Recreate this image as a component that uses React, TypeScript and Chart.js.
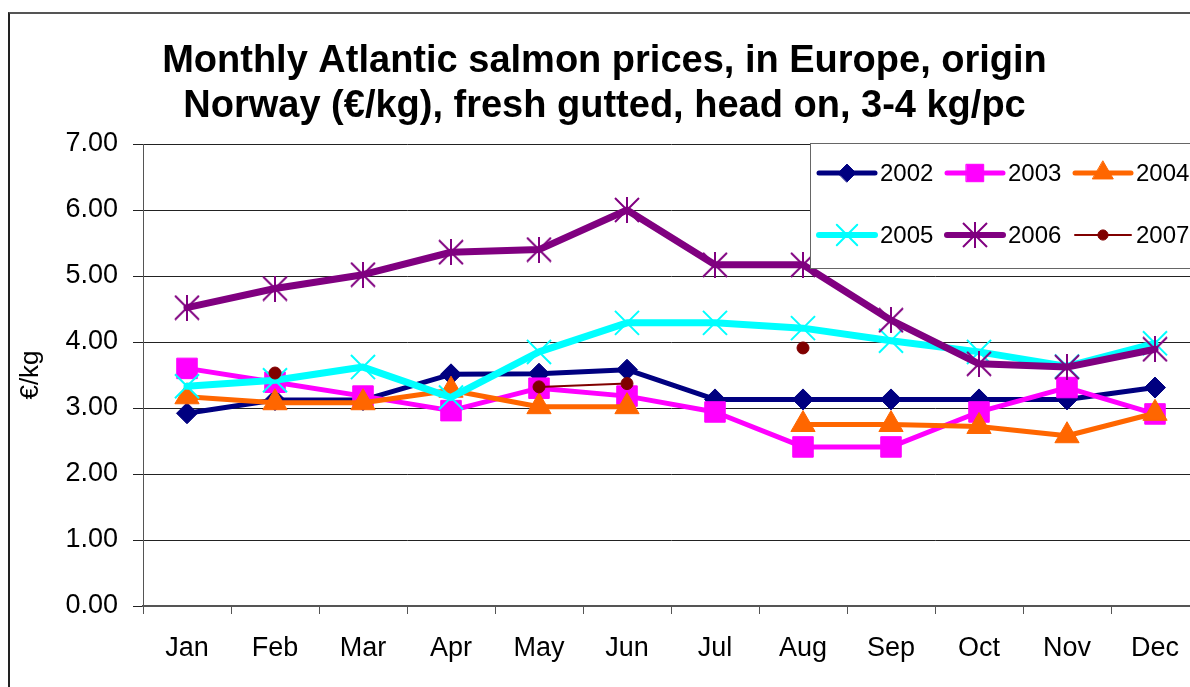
import React, { useEffect, useRef } from "react";
import { Chart, registerables } from "chart.js";
import { drawPoint } from "chart.js/helpers";

Chart.register(...registerables);

const months = ["Jan", "Feb", "Mar", "Apr", "May", "Jun", "Jul", "Aug", "Sep", "Oct", "Nov", "Dec"];
const titleLines = [
  "Monthly Atlantic salmon prices, in Europe, origin",
  "Norway (€/kg), fresh gutted, head on, 3-4 kg/pc",
];
const yAxisTitle = "€/kg";
const seriesNames = ["2002", "2003", "2004", "2005", "2006", "2007"];
const y2002 = [2.92, 3.12, 3.12, 3.51, 3.52, 3.58, 3.13, 3.13, 3.13, 3.13, 3.13, 3.31];
const y2003 = [3.6, 3.39, 3.18, 2.96, 3.3, 3.18, 2.94, 2.41, 2.41, 2.94, 3.31, 2.91];
const y2004 = [3.17, 3.08, 3.08, 3.27, 3.02, 3.02, null, 2.75, 2.75, 2.72, 2.58, 2.92];
const y2005 = [3.33, 3.42, 3.62, 3.16, 3.85, 4.29, 4.29, 4.21, 4.02, 3.85, 3.63, 3.98];
const y2006 = [4.52, 4.81, 5.02, 5.36, 5.4, 6.0, 5.17, 5.17, 4.33, 3.67, 3.62, 3.89];
const y2007 = [null, 3.53, null, null, 3.32, 3.37, null, 3.91, null, null, null, null];

const FONT = "'Liberation Sans', Arial, sans-serif";

function makeAsterisk(color: string) {
  const c = document.createElement("canvas");
  c.width = 26;
  c.height = 26;
  const g = c.getContext("2d")!;
  g.strokeStyle = color;
  g.lineWidth = 2;
  g.beginPath();
  g.moveTo(1, 1);
  g.lineTo(25, 25);
  g.moveTo(25, 1);
  g.lineTo(1, 25);
  g.moveTo(13, 0);
  g.lineTo(13, 26);
  g.stroke();
  return c;
}

const ZERO = () => ({ left: 0, right: 0, top: 0, bottom: 0 });

export default function App() {
  const ref = useRef<HTMLCanvasElement | null>(null);

  useEffect(() => {
    if (!ref.current) return;
    const asterisk = makeAsterisk("#800080");
    const styles = [
      { color: "#000080", width: 5, point: "rectRot", radius: 10.5, pbw: 1 },
      { color: "#FF00FF", width: 5, point: "rect", radius: 14.5, pbw: 1 },
      { color: "#FF6600", width: 5, point: "triangle", radius: 14, pbw: 1 },
      { color: "#00FFFF", width: 7, point: "crossRot", radius: 17, pbw: 2 },
      { color: "#800080", width: 7, point: asterisk as any, radius: 12, pbw: 2 },
      { color: "#800000", width: 2, point: "circle", radius: 6, pbw: 1 },
    ];
    const values = [y2002, y2003, y2004, y2005, y2006, y2007];
    const datasets = values.map((v, i) => ({
      label: seriesNames[i],
      data: v,
      borderColor: styles[i].color,
      backgroundColor: styles[i].color,
      pointBackgroundColor: styles[i].color,
      pointBorderColor: styles[i].color,
      borderWidth: styles[i].width,
      pointStyle: styles[i].point,
      pointRadius: styles[i].radius,
      pointBorderWidth: styles[i].pbw,
      tension: 0,
      spanGaps: false,
      borderJoinStyle: "round" as const,
      borderCapStyle: "round" as const,
      order: 6 - i,
    }));

    const legendPlugin = {
      id: "boxLegend",
      afterDraw(chart: any) {
        const ctx = chart.ctx as CanvasRenderingContext2D;
        const ca = chart.chartArea;
        const bx = 800;
        const by = ca.top - 1;
        ctx.save();
        ctx.fillStyle = "#ffffff";
        ctx.fillRect(bx, by, 600, 125);
        ctx.strokeStyle = "#666";
        ctx.lineWidth = 1;
        ctx.strokeRect(bx + 0.5, by + 0.5, 600, 125);
        chart.data.datasets.forEach((ds: any, i: number) => {
          const col = i % 3;
          const row = Math.floor(i / 3);
          const x0 = 807 + col * 128;
          const y = 159 + row * 62;
          ctx.strokeStyle = ds.borderColor;
          ctx.lineWidth = Math.min(ds.borderWidth, 6);
          ctx.lineCap = "round";
          ctx.beginPath();
          ctx.moveTo(x0 + 2, y);
          ctx.lineTo(x0 + 58, y);
          ctx.stroke();
          ctx.fillStyle = ds.pointBackgroundColor;
          ctx.strokeStyle = ds.pointBorderColor;
          ctx.lineWidth = ds.pointBorderWidth;
          drawPoint(ctx, {
            pointStyle: ds.pointStyle,
            rotation: 0,
            radius: typeof ds.pointStyle === "string" ? ds.pointRadius * 0.85 : ds.pointRadius,
            borderWidth: ds.pointBorderWidth,
          } as any, x0 + 30, y);
          ctx.fillStyle = "#000";
          ctx.font = `24px ${FONT}`;
          ctx.textBaseline = "middle";
          ctx.textAlign = "left";
          ctx.fillText(ds.label, x0 + 63, y + 1);
        });
        ctx.restore();
      },
    };

    const chart = new Chart(ref.current, {
      type: "line",
      data: { labels: months, datasets: datasets as any },
      plugins: [legendPlugin],
      options: {
        animation: false,
        responsive: false,
        devicePixelRatio: 1,
        events: [],
        layout: { autoPadding: false, padding: { left: 0, right: 1, top: 0, bottom: 0 } },
        plugins: {
          legend: { display: false },
          tooltip: { enabled: false },
          title: {
            display: true,
            text: titleLines,
            color: "#000",
            font: { family: FONT, size: 38, weight: "bold", lineHeight: 45 / 38 },
            padding: { top: 25, bottom: 15 },
          },
        },
        scales: {
          x: {
            type: "category",
            offset: true,
            grid: {
              offset: true,
              drawOnChartArea: false,
              drawTicks: true,
              tickLength: 8,
              color: "#555",
            },
            border: { display: true, color: "#555", width: 2 },
            ticks: {
              color: "#000",
              font: { family: FONT, size: 27 },
              padding: 18,
              maxRotation: 0,
              autoSkip: false,
            },
            afterFit: (s: any) => {
              s.height = 81;
              s.paddingLeft = 0;
              s.paddingRight = 0;
              s.getPadding = ZERO;
            },
          },
          y: {
            min: 0,
            max: 7,
            ticks: {
              stepSize: 1,
              color: "#000",
              font: { family: FONT, size: 27 },
              padding: 15,
              callback: (v: any) => Number(v).toFixed(2),
            },
            grid: { color: "#222", lineWidth: 1, tickLength: 10 },
            border: { display: true, color: "#555", width: 1 },
            title: {
              display: true,
              text: yAxisTitle,
              color: "#000",
              font: { family: FONT, size: 26 },
              padding: { top: 5, bottom: 0 },
            },
            afterFit: (s: any) => {
              s.width = 133;
            },
          },
        },
      } as any,
    });
    return () => chart.destroy();
  }, []);

  return (
    <div
      style={{
        position: "fixed",
        left: 0,
        top: 0,
        width: 1190,
        height: 687,
        overflow: "hidden",
        background: "#fff",
      }}
    >
      <div
        style={{
          position: "absolute",
          left: 8,
          top: 12,
          width: 2000,
          height: 1000,
          borderLeft: "2px solid #222",
          borderTop: "2px solid #555",
        }}
      />
      <canvas
        ref={ref}
        width={1190}
        height={673}
        style={{ position: "absolute", left: 10, top: 14, width: 1190, height: 673 }}
      />
    </div>
  );
}
